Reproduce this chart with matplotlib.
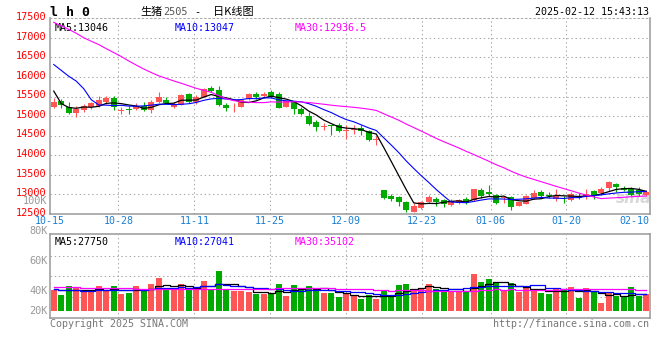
import matplotlib
matplotlib.use("Agg")
import matplotlib.pyplot as plt
import matplotlib.transforms as mtransforms
import numpy as np

# 生猪2505 daily candles, 80 trading days (2024-10-15 .. 2025-02-12)
opens = [15228, 15390, 15241, 15083, 15159, 15228, 15271, 15355, 15457, 15140,
         15180, 15177, 15271, 15159, 15355, 15406, 15228, 15287, 15558, 15355,
         15490, 15711, 15660, 15287, 15250, 15236, 15439, 15558, 15507, 15609,
         15576, 15236, 15355, 15185, 15000, 14847, 14720, 14784, 14784, 14615,
         14640, 14695, 14610, 14390, 13120, 12960, 12934, 12790, 12536, 12637,
         12790, 12891, 12848, 12731, 12764, 12873, 12848, 13102, 13061, 12993,
         12900, 12934, 12695, 12739, 12908, 13051, 12993, 12883, 12905, 12848,
         12967, 12950, 13077, 13036, 13163, 13272, 13163, 13137, 13120, 12993]
highs = [15457, 15440, 15363, 15246, 15312, 15373, 15507, 15507, 15507, 15240,
         15246, 15330, 15355, 15406, 15609, 15500, 15373, 15566, 15584, 15540,
         15730, 15779, 15779, 15337, 15337, 15420, 15591, 15609, 15609, 15678,
         15609, 15395, 15389, 15236, 15101, 14905, 14814, 14784, 14814, 14780,
         14763, 14763, 14652, 14484, 13120, 13000, 12960, 12833, 12770, 12833,
         12985, 12942, 12891, 12866, 12882, 12934, 13130, 13153, 13230, 13010,
         12950, 12950, 12797, 12985, 13100, 13100, 13060, 13137, 12950, 13060,
         13040, 13137, 13120, 13178, 13330, 13300, 13220, 13180, 13190, 13100]
lows = [15203, 15203, 15050, 14966, 15109, 15185, 15236, 15322, 15152, 15050,
        15050, 15152, 15120, 15083, 15347, 15304, 15203, 15287, 15347, 15322,
        15480, 15609, 15253, 15134, 15100, 15236, 15424, 15439, 15490, 15457,
        15203, 15230, 15050, 15017, 14778, 14626, 14644, 14525, 14593, 14423,
        14542, 14509, 14372, 14270, 12873, 12815, 12706, 12536, 12536, 12620,
        12764, 12706, 12680, 12706, 12740, 12740, 12830, 12900, 12950, 12760,
        12764, 12594, 12690, 12739, 12883, 12916, 12916, 12823, 12764, 12823,
        12880, 12890, 12866, 12993, 13077, 13060, 13077, 12960, 12950, 12950]
closes = [15373, 15287, 15076, 15177, 15253, 15337, 15406, 15457, 15236, 15160,
          15165, 15271, 15152, 15373, 15482, 15330, 15312, 15540, 15373, 15500,
          15705, 15642, 15287, 15203, 15265, 15406, 15576, 15500, 15576, 15490,
          15220, 15389, 15185, 15050, 14796, 14728, 14735, 14735, 14626, 14640,
          14660, 14610, 14397, 14400, 12917, 12873, 12807, 12594, 12706, 12790,
          12934, 12790, 12746, 12833, 12848, 12790, 13127, 12950, 13000, 12782,
          12910, 12680, 12797, 12950, 13036, 12967, 12950, 12950, 12895, 13010,
          12908, 13018, 12967, 13137, 13305, 13188, 13120, 12993, 13018, 13051]
volumes = [34900, 26100, 41000, 38700, 32000, 31500, 41000, 32000, 41000, 27700,
           29400, 41000, 34900, 44300, 54300, 34900, 34900, 44300, 34900, 37700,
           49800, 34900, 66400, 34900, 32000, 33200, 31000, 27700, 28200, 28200,
           44300, 24900, 42700, 37700, 41000, 34900, 29400, 29400, 22700, 27700,
           24900, 19400, 26600, 19400, 32000, 23700, 42700, 44300, 36000, 37700,
           44300, 36000, 34900, 30400, 30400, 32000, 61400, 47600, 52600, 46000,
           32000, 46000, 31000, 37700, 34900, 29400, 27700, 37700, 34900, 39300,
           21100, 37700, 33200, 12800, 29400, 23700, 23700, 39300, 24900, 27700]

# moving-average values at the start of the window (need days before it)
ma5_head = [15640, 15320, 15220, 15200]
ma10_head = [16320, 16170, 16020, 15895, 15700, 15420, 15285, 15280, 15270]
ma30_head = [17400, 17310, 17220, 17120, 17005, 16915, 16830, 16725, 16625, 16525,
             16410, 16305, 16205, 16115, 16030, 15965, 15900, 15840, 15775, 15710,
             15660, 15610, 15520, 15445, 15395, 15370, 15355, 15345, 15345]
vma5_head = [36000, 35000, 34500, 35000]
vma10_head = [35500, 35000, 34500, 34000, 33500, 33500, 34000, 34000, 34500]
vma30_head = [38700, 38700, 38600, 38600, 38500, 38400, 38300, 37700, 37600, 37500,
              37400, 36800, 36700, 36600, 36600, 36500, 36500, 36400, 36400, 36300,
              36300, 36000, 35900, 35800, 35800, 35700, 35700, 35600, 35600]

date_labels = ["10-15", "10-28", "11-11", "11-25", "12-09", "12-23", "01-06", "01-20", "02-10"]
date_index = [0, 9, 19, 29, 39, 49, 58, 68, 77]
price_ticks = list(range(12500, 17501, 500))
vol_labels = ["100K", "80K", "60K", "40K", "20K"]

ma_text = ["MA5:13046", "MA10:13047", "MA30:12936.5"]
vma_text = ["MA5:27750", "MA10:27041", "MA30:35102"]

W, H = 660, 360
RED, GREEN = "#ff5555", "#00aa00"
GRID = "#aaaaaa"
BORDER = "#999999"
MONO = "DejaVu Sans Mono"
CJK = ["Noto Sans CJK SC", "DejaVu Sans"]


def moving_avg(data, n, head):
    out = list(head)
    for i in range(len(head), len(data)):
        out.append(np.mean(data[i - n + 1:i + 1]))
    return out


def fx(px):
    return px / W


def fy(py):
    return 1 - py / H


n = len(closes)
x = np.arange(n)

fig = plt.figure(figsize=(6.6, 3.6), dpi=100)
fig.patch.set_facecolor("white")

# main panel: 50..650 px wide, 18.4..213.8 px tall
ax = fig.add_axes([fx(50), fy(213.8), fx(600), 195.4 / H])
# volume panel: 234..318 px
axv = fig.add_axes([fx(50), fy(318), fx(600), 84 / H])

grid_x = [i * 80 / 79 - 0.5 for i in date_index[1:-1]]
dots = (0, (1.4, 2.6))

# ---- price panel ----
ax.set_xlim(-0.5, n - 0.5)
ax.set_ylim(12500, 17500)
for p in price_ticks[1:-1]:
    ax.axhline(p, color=GRID, lw=0.75, ls=dots, zorder=0)
for gx in grid_x:
    ax.axvline(gx, color=GRID, lw=0.75, ls=dots, zorder=0)

for i in range(n):
    o, h, l, c = opens[i], highs[i], lows[i], closes[i]
    col = RED if c >= o else GREEN
    ax.vlines(i, l, h, color=col, lw=0.8, zorder=2)
    body = max(abs(c - o), 20)
    ax.bar(i, body, width=0.8, bottom=min(o, c), color=col, edgecolor=col, lw=0, zorder=3)

ax.plot(x, moving_avg(closes, 5, ma5_head), color="black", lw=0.9, zorder=4)
ax.plot(x, moving_avg(closes, 10, ma10_head), color="#0000ff", lw=0.8, zorder=4)
ax.plot(x, moving_avg(closes, 30, ma30_head), color="#ff00ff", lw=0.8, zorder=4)

ax.set_yticks(price_ticks)
ax.set_yticklabels([str(p) for p in price_ticks], color="#ff0000", fontsize=7.4, family=MONO)
ax.tick_params(axis="y", length=0, pad=2.5)
lift = mtransforms.ScaledTranslation(0, 2.2 / 100, fig.dpi_scale_trans)
for lab in ax.get_yticklabels():
    lab.set_transform(lab.get_transform() + lift)
ax.set_xticks([i * 80 / 79 - 0.5 for i in date_index])
ax.set_xticklabels(date_labels, color="#1a7fd4", fontsize=7.2, family=MONO)
ax.tick_params(axis="x", length=0, pad=1.5)
for s in ["left", "right", "bottom"]:
    ax.spines[s].set_color(BORDER)
    ax.spines[s].set_linewidth(1.1)
ax.spines["top"].set_color(GRID)
ax.spines["top"].set_linewidth(0.75)
ax.spines["top"].set_linestyle(dots)

ax.text(0.008, 0.975, ma_text[0], transform=ax.transAxes, color="black", fontsize=7.2, family=MONO, va="top")
ax.text(0.208, 0.975, ma_text[1], transform=ax.transAxes, color="#0000ff", fontsize=7.2, family=MONO, va="top")
ax.text(0.408, 0.975, ma_text[2], transform=ax.transAxes, color="#ff00ff", fontsize=7.2, family=MONO, va="top")
ax.text(0.972, 0.08, "sina", transform=ax.transAxes, color="#d8d8d8", fontsize=11, style="italic",
        weight="bold", ha="center", va="center", zorder=1)

# ---- volume panel ----
per_px = 1660.0
axv.set_xlim(-0.5, n - 0.5)
axv.set_ylim((310.7 - 318) * per_px, (310.7 - 234) * per_px)
for gy in [255.7, 275.7, 296.7]:
    axv.axhline((310.7 - gy) * per_px, color=GRID, lw=0.75, ls=dots, zorder=0)
for gx in grid_x:
    axv.axvline(gx, color=GRID, lw=0.75, ls=dots, zorder=0)
vcols = [RED if closes[i] >= opens[i] else GREEN for i in range(n)]
axv.bar(x, volumes, width=0.8, color=vcols, lw=0, zorder=2)
axv.step(x, moving_avg(volumes, 5, vma5_head), where="mid", color="black", lw=0.9, zorder=3)
axv.step(x, moving_avg(volumes, 10, vma10_head), where="mid", color="#0000ff", lw=0.9, zorder=3)
axv.step(x, moving_avg(volumes, 30, vma30_head), where="mid", color="#ff00ff", lw=0.9, zorder=3)
axv.set_xticks([])
axv.set_yticks([])
for s in axv.spines.values():
    s.set_color(BORDER)
    s.set_linewidth(1.1)
axv.text(0.008, 0.96, vma_text[0], transform=axv.transAxes, color="black", fontsize=7.2, family=MONO, va="top")
axv.text(0.208, 0.96, vma_text[1], transform=axv.transAxes, color="#0000ff", fontsize=7.2, family=MONO, va="top")
axv.text(0.408, 0.96, vma_text[2], transform=axv.transAxes, color="#ff00ff", fontsize=7.2, family=MONO, va="top")

for lab, py in zip(vol_labels, [200.5, 231, 261, 291, 311]):
    fig.text(fx(47.5), fy(py), lab, color="#999999", fontsize=7.4, family=MONO, ha="right", va="center")

# ---- header / footer ----
fig.text(fx(50), fy(12), "l h 0", color="black", fontsize=9.5, family=MONO, weight="bold", va="center")
fig.text(fx(140), fy(12), "生猪", color="black", fontsize=8, family=CJK, va="center")
fig.text(fx(163), fy(12), "2505", color="#555555", fontsize=7.4, family=MONO, va="center")
fig.text(fx(194), fy(12), "-", color="black", fontsize=7.4, family=MONO, va="center")
fig.text(fx(213), fy(12), "日K线图", color="black", fontsize=8, family=CJK, va="center")
fig.text(fx(649), fy(12), "2025-02-12 15:43:13", color="black", fontsize=7.2, family=MONO, ha="right", va="center")
fig.text(fx(50), fy(324), "Copyright 2025 SINA.COM", color="#777777", fontsize=7.2, family=MONO, va="center")
fig.text(fx(649), fy(324), "http://finance.sina.com.cn", color="#777777", fontsize=7.2, family=MONO,
         ha="right", va="center")

fig.savefig("out.png", dpi=100)
